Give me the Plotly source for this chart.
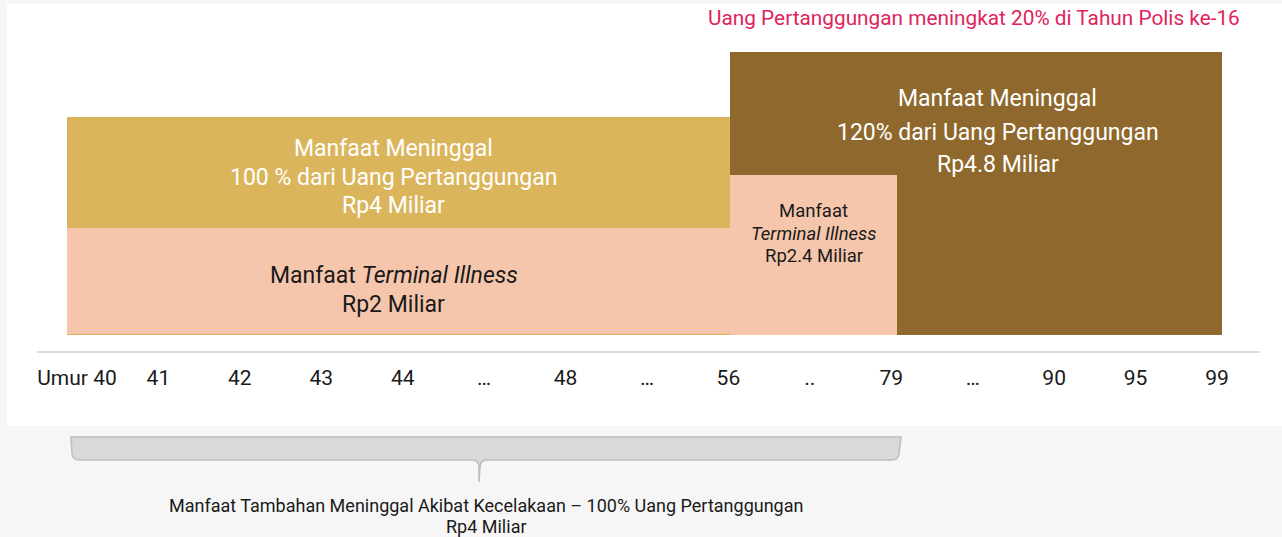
import plotly.graph_objects as go

# ---------------- data ----------------
age_labels = ["Umur 40", "41", "42", "43", "44", "…", "48", "…", "56", "..", "79", "…", "90", "95", "99"]
age_positions = list(range(len(age_labels)))

block_names = ["Manfaat Meninggal 100%", "Manfaat Terminal Illness Rp2 Miliar",
               "Manfaat Meninggal 120%", "Manfaat Terminal Illness Rp2.4 Miliar"]
block_start = [-0.12, -0.12, 8.02, 8.02]      # position on the age axis where the block starts
block_end = [8.02, 8.02, 14.06, 10.07]        # position on the age axis where the block ends
block_base = [0.0, 0.02, 0.0, 0.0]            # bottom of the block (chart units)
block_top = [4.07, 2.0, 5.29, 2.99]           # top of the block (chart units)
block_colors = ["#DBB55B", "#F5C6AC", "#8E682C", "#F5C6AC"]

title_note = "Uang Pertanggungan meningkat 20% di Tahun Polis ke-16"
rider_lines = ["Manfaat Tambahan Meninggal Akibat Kecelakaan – 100% Uang Pertanggungan", "Rp4 Miliar"]

# ---------------- layout geometry ----------------
W, H = 1282, 537
ML, MR, MT, MB = 37, 22, 40, 186
PW, PH = W - ML - MR, H - MT - MB
XR = [-0.491, 14.528]
YR = [-0.299, 5.514]


def px_x(p):
    return (p - ML) / PW


def px_y(p):
    return (H - MB - p) / PH


def y_of(p):
    return YR[0] + (H - MB - p) / PH * (YR[1] - YR[0])


FONT = "Roboto"

fig = go.Figure()
for name, s, e, b, t, c in zip(block_names, block_start, block_end, block_base, block_top, block_colors):
    fig.add_trace(go.Bar(
        x=[(s + e) / 2], y=[t - b], base=[b], width=[e - s],
        marker=dict(color=c, line=dict(width=0)), name=name,
        hoverinfo="name", showlegend=False,
    ))

shapes = []
# white panel
shapes.append(dict(type="rect", xref="paper", yref="paper", layer="below",
                   x0=px_x(7), x1=px_x(1282), y0=px_y(426), y1=px_y(4),
                   fillcolor="white", line=dict(width=0)))


def P(x, y):
    return f"{px_x(x):.5f},{px_y(y):.5f}"


bracket = (f"M{P(71,437)} L{P(72,454)} Q{P(73,460)} {P(79,460)} L{P(474,460)} "
           f"Q{P(478.5,461)} {P(479,467)} L{P(479,482)} L{P(480,467)} Q{P(480.5,461)} {P(485,460)} "
           f"L{P(892,460)} Q{P(898,460)} {P(899,454)} L{P(901,437)} Z")
shapes.append(dict(type="path", xref="paper", yref="paper", path=bracket, layer="below",
                   fillcolor="#D9D9D9", line=dict(color="#BDBDBD", width=1.5)))

ann = []


def label(x, py, text, size, color):
    ann.append(dict(x=x, y=y_of(py), xref="x", yref="y", text=text, showarrow=False,
                    xanchor="center", yanchor="middle",
                    font=dict(family=FONT, size=size, color=color)))


gold_mid = 3.89
label(gold_mid, 148, "Manfaat Meninggal", 23, "white")
label(gold_mid, 177, "100 % dari Uang Pertanggungan", 23, "white")
label(gold_mid, 205, "Rp4 Miliar", 23, "white")
label(gold_mid, 275, "Manfaat <i>Terminal Illness</i>", 23, "#1A1A1A")
label(gold_mid, 304, "Rp2 Miliar", 23, "#1A1A1A")

brown_mid = 11.31
label(brown_mid, 98, "Manfaat Meninggal", 23, "white")
label(brown_mid, 132, "120% dari Uang Pertanggungan", 23, "white")
label(brown_mid, 164, "Rp4.8 Miliar", 23, "white")

peach_mid = (block_start[3] + block_end[3]) / 2
label(peach_mid, 211, "Manfaat", 18.5, "#1A1A1A")
label(peach_mid, 234, "<i>Terminal Illness</i>", 18.5, "#1A1A1A")
label(peach_mid, 256, "Rp2.4 Miliar", 18.5, "#1A1A1A")

ann.append(dict(x=px_x(1242), y=px_y(18), xref="paper", yref="paper", text=title_note,
                showarrow=False, xanchor="right", yanchor="middle",
                font=dict(family=FONT, size=20.8, color="#E0245B")))
ann.append(dict(x=px_x(486), y=px_y(505), xref="paper", yref="paper", text=rider_lines[0],
                showarrow=False, xanchor="center", yanchor="middle",
                font=dict(family=FONT, size=18, color="#1A1A1A")))
ann.append(dict(x=px_x(486), y=px_y(526), xref="paper", yref="paper", text=rider_lines[1],
                showarrow=False, xanchor="center", yanchor="middle",
                font=dict(family=FONT, size=18, color="#1A1A1A")))

fig.update_layout(
    width=W, height=H, autosize=False,
    margin=dict(l=ML, r=MR, t=MT, b=MB, pad=0),
    paper_bgcolor="#F6F6F6", plot_bgcolor="rgba(0,0,0,0)",
    barmode="overlay", bargap=0,
    shapes=shapes, annotations=ann,
    xaxis=dict(range=XR, tickmode="array", tickvals=age_positions, ticktext=age_labels,
               showgrid=False, zeroline=False, showline=True, linecolor="#DCDCDC", linewidth=2,
               ticks="", ticklabelstandoff=7, fixedrange=True,
               tickfont=dict(family=FONT, size=21, color="#1A1A1A")),
    yaxis=dict(range=YR, visible=False, fixedrange=True),
    font=dict(family=FONT),
)

fig.write_html("out.html", config={"displayModeBar": False},
               post_script="document.body.style.margin='0';document.body.style.overflow='hidden';")
